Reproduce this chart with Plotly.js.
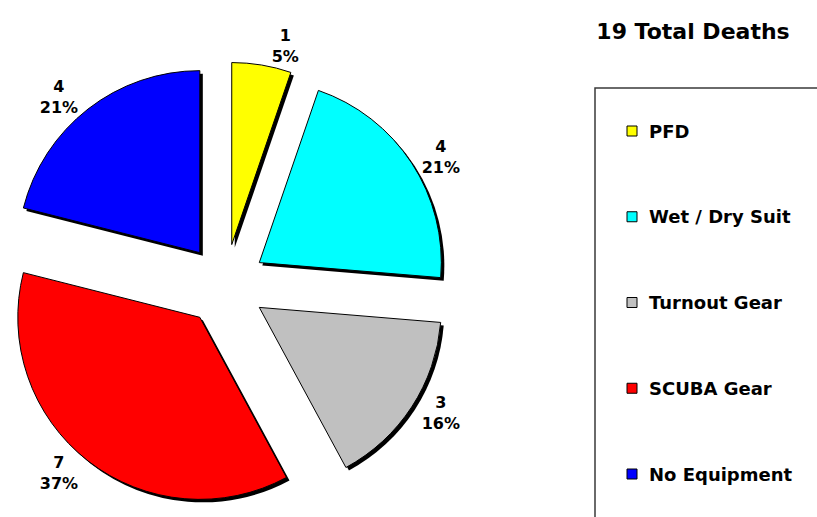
<!DOCTYPE html>
<html>
<head>
<meta charset="utf-8">
<script src="https://cdn.plot.ly/plotly-3.0.1.min.js"></script>
<style>html,body{margin:0;padding:0;background:#fff}#chart{width:817px;height:517px}</style>
</head>
<body>
<div id="chart"></div>
<script>
const categories = ["PFD", "Wet / Dry Suit", "Turnout Gear", "SCUBA Gear", "No Equipment"];
const deaths = [1, 4, 3, 7, 4];
const sliceColors = ["#FFFF00", "#00FFFF", "#C0C0C0", "#FF0000", "#0000FF"];

const W = 817, H = 517;
const total = deaths.reduce((a, b) => a + b, 0);
const FONT = "DejaVu Sans, Liberation Sans, Arial, sans-serif";
const pull = deaths.map(() => 0.225);

// pie box in pixels
const box = {x0: 2, x1: 448, y0: 62, y1: 508};
const sh = 3; // shadow offset in px
function dom(dx, dy) {
  return {
    x: [(box.x0 + dx) / W, (box.x1 + dx) / W],
    y: [1 - (box.y1 + dy) / H, 1 - (box.y0 + dy) / H]
  };
}

const shadow = {
  type: "pie", labels: categories, values: deaths, sort: false,
  direction: "clockwise", rotation: 0, pull: pull,
  domain: dom(sh, sh),
  marker: {colors: deaths.map(() => "#000000"), line: {width: 0}},
  textinfo: "none", hoverinfo: "skip", showlegend: false
};
const main = {
  type: "pie", labels: categories, values: deaths, sort: false,
  direction: "clockwise", rotation: 0, pull: pull,
  domain: dom(0, 0),
  marker: {colors: sliceColors, line: {color: "#000000", width: 1}},
  texttemplate: "%{value}<br>%{percent:.0%}",
  textposition: "outside",
  outsidetextfont: {family: FONT, size: 16, color: "#000000", weight: "bold"},
  showlegend: false
};

// legend box and entries
const legX = 595, legTop = 88, rowY0 = 131, rowStep = 85.75;
const shapes = [{
  type: "rect", xref: "paper", yref: "paper",
  x0: legX / W, x1: 830 / W, y0: 1 - 540 / H, y1: 1 - legTop / H,
  line: {color: "#3a3a3a", width: 1.5}, fillcolor: "rgba(0,0,0,0)"
}];
const annotations = [];
categories.forEach((c, i) => {
  const cy = rowY0 + i * rowStep;
  shapes.push({
    type: "rect", xref: "paper", yref: "paper",
    x0: 627 / W, x1: 637 / W, y0: 1 - (cy + 5) / H, y1: 1 - (cy - 5) / H,
    line: {color: "#000000", width: 1}, fillcolor: sliceColors[i]
  });
  annotations.push({
    xref: "paper", yref: "paper", x: 647 / W, y: 1 - cy / H,
    xanchor: "left", yanchor: "middle", showarrow: false, text: c,
    font: {family: FONT, size: 18, color: "#000000", weight: "bold"}
  });
});

const layout = {
  width: W, height: H,
  margin: {l: 0, r: 0, t: 0, b: 0},
  paper_bgcolor: "#ffffff", plot_bgcolor: "#ffffff",
  showlegend: false,
  title: {
    text: total + " Total Deaths",
    x: 693 / W, xanchor: "center", y: 1 - 31 / H, yanchor: "middle",
    font: {family: FONT, size: 22, color: "#000000", weight: "bold"}
  },
  shapes: shapes,
  annotations: annotations
};

Plotly.newPlot("chart", [shadow, main], layout, {displayModeBar: false, staticPlot: true});
</script>
</body>
</html>
